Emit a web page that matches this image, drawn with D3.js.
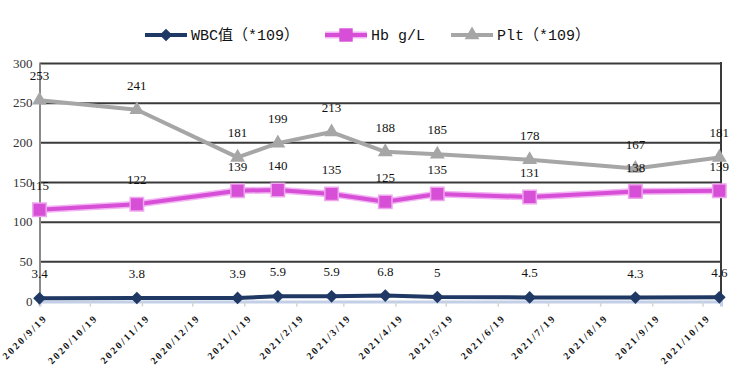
<!DOCTYPE html>
<html><head><meta charset="utf-8">
<script src="https://cdn.jsdelivr.net/npm/d3@7"></script>
<style>
body{margin:0;background:#fff}
.serif{font-family:'Liberation Serif','Times New Roman',serif}
.mono{font-family:'Liberation Mono','Noto Sans CJK SC',monospace}
</style>
</head><body><svg id="c" width="744" height="380"></svg>
<script>
const dates = ["2020-09-19","2020-11-16","2021-01-15","2021-02-08","2021-03-12","2021-04-13","2021-05-14","2021-07-08","2021-09-09","2021-10-29"];
const wbc = [3.4,3.8,3.9,5.9,5.9,6.8,5,4.5,4.3,4.6];
const hb = [115,122,139,140,135,125,135,131,138,139];
const plt = [253,241,181,199,213,188,185,178,167,181];
const wbcLabels = ["3.4","3.8","3.9","5.9","5.9","6.8","5","4.5","4.3","4.6"];
const xTickLabels = ["2020/9/19","2020/10/19","2020/11/19","2020/12/19","2021/1/19","2021/2/19","2021/3/19","2021/4/19","2021/5/19","2021/6/19","2021/7/19","2021/8/19","2021/9/19","2021/10/19"];
const yTicks = [0,50,100,150,200,250,300];
const seriesNames = ["WBC值（*109）","Hb g/L","Plt（*109）"];
const xDomain = ["2020-09-19","2021-10-30"];

const parse = d3.timeParse("%Y-%m-%d");
const parseTick = d3.timeParse("%Y/%m/%d");
const svg = d3.select("#c");
const x = d3.scaleTime().domain(xDomain.map(parse)).range([39.5, 721]);
const y = d3.scaleLinear().domain([0, 300]).range([301, 63]);

const series = [
  {name: seriesNames[0], vals: wbc, labels: wbcLabels, color: "#1f3864", sym: "diamond"},
  {name: seriesNames[1], vals: hb, labels: hb.map(String), color: "#d64fd6", sym: "square"},
  {name: seriesNames[2], vals: plt, labels: plt.map(String), color: "#a6a6a6", sym: "triangle"}
];

// gridlines
const grid = svg.append("g").attr("transform", "translate(39.5,0)")
  .call(d3.axisLeft(y).tickValues(yTicks.filter(v => v > 0)).tickSize(-(721 - 39.5)).tickFormat(""));
grid.select(".domain").remove();
grid.selectAll("line").attr("stroke", "#3a3a3a").attr("stroke-width", 2);

// right border
svg.append("line").attr("x1", 721).attr("x2", 721).attr("y1", y(300) - 1).attr("y2", y(0))
  .attr("stroke", "#3a3a3a").attr("stroke-width", 2);

// bottom axis
const xAxis = svg.append("g").attr("transform", "translate(0,301.5)")
  .call(d3.axisBottom(x).tickValues(xTickLabels.map(parseTick)).tickSize(5).tickFormat((d, i) => xTickLabels[i]));
xAxis.attr("font-family", null).attr("font-size", null);
xAxis.select(".domain").attr("stroke", "#c3cfe6").attr("stroke-width", 3);
xAxis.selectAll(".tick line").attr("stroke", "#d4d4d4").attr("stroke-width", 1.5);
xAxis.selectAll(".tick text")
  .attr("class", "serif")
  .style("font-size", "10px").style("font-weight", "bold").style("letter-spacing", "2px")
  .attr("fill", "#111")
  .attr("text-anchor", "end").attr("y", 0).attr("dy", 0)
  .attr("transform", "translate(8,17) rotate(-45)");

// left axis
const yAxis = svg.append("g").attr("transform", "translate(39.5,0)")
  .call(d3.axisLeft(y).tickValues(yTicks).tickSize(0).tickPadding(7));
yAxis.attr("font-family", null).attr("font-size", null);
yAxis.select(".domain").attr("stroke", "#8a8a8a").attr("stroke-width", 2);
yAxis.selectAll("text").attr("class", "serif").style("font-size", "13px").attr("fill", "#333");

const symGen = {
  diamond: d3.symbol().type(d3.symbolSquare).size(80),
  square: d3.symbol().type(d3.symbolSquare).size(180),
  triangle: d3.symbol().type(d3.symbolTriangle).size(95)
};
const symRot = {diamond: 45, square: 0, triangle: 0};

const line = d3.line().x(d => x(d.d)).y(d => y(d.v));
// draw order: Plt, Hb, WBC
[series[2], series[1], series[0]].forEach(s => {
  const pts = s.vals.map((v, i) => ({d: parse(dates[i]), v}));
  const g = svg.append("g");
  if (s.sym === "square") {
    g.append("path").datum(pts).attr("d", line).attr("fill", "none")
      .attr("stroke", "#f3b5f3").attr("stroke-width", 7).attr("stroke-linejoin", "round");
  }
  g.append("path").datum(pts).attr("d", line).attr("fill", "none")
    .attr("stroke", s.color).attr("stroke-width", 4).attr("stroke-linejoin", "round");
  g.selectAll(".m").data(pts).join("path")
    .attr("d", symGen[s.sym])
    .attr("transform", d => `translate(${x(d.d)},${y(d.v)}) rotate(${symRot[s.sym]})`)
    .attr("fill", s.color)
    .attr("stroke", s.sym === "square" ? "#eea6ee" : "none").attr("stroke-width", 1.5);
});

// data labels
series.forEach(s => {
  svg.append("g").selectAll("text").data(s.vals).join("text")
    .attr("class", "serif")
    .attr("x", (v, i) => x(parse(dates[i])))
    .attr("y", v => y(v) - 20)
    .attr("text-anchor", "middle")
    .style("font-size", "13px").attr("fill", "#111")
    .text((v, i) => s.labels[i]);
});

// legend
let lx = 145;
const ly = 35;
series.forEach(s => {
  const g = svg.append("g");
  if (s.sym === "square") {
    g.append("line").attr("x1", lx).attr("x2", lx + 42).attr("y1", ly).attr("y2", ly)
      .attr("stroke", "#f3b5f3").attr("stroke-width", 7);
  }
  g.append("line").attr("x1", lx).attr("x2", lx + 42).attr("y1", ly).attr("y2", ly)
    .attr("stroke", s.color).attr("stroke-width", 4);
  g.append("path").attr("d", symGen[s.sym])
    .attr("transform", `translate(${lx + 21},${ly}) rotate(${symRot[s.sym]})`)
    .attr("fill", s.color);
  const t = g.append("text").attr("class", "mono").attr("x", lx + 46).attr("y", ly + 5)
    .style("font-size", "15px").attr("fill", "#111").text(s.name);
  lx = lx + 46 + t.node().getComputedTextLength() + 26;
});
</script></body></html>
